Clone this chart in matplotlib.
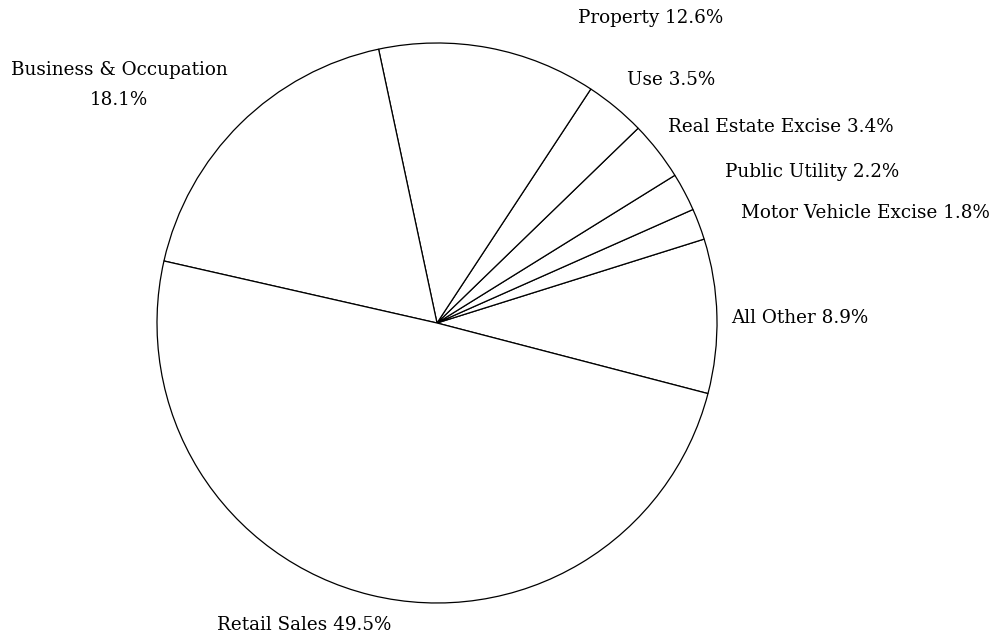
import matplotlib.pyplot as plt

# revenue share by tax source (%), counter-clockwise from All Other
sources = ['All Other', 'Motor Vehicle Excise', 'Public Utility', 'Real Estate Excise',
           'Use', 'Property', 'Business & Occupation', 'Retail Sales']
shares = [8.9, 1.8, 2.2, 3.4, 3.5, 12.6, 18.1, 49.5]

# pie centre at pixel (437, 323), radius 280 px -> data units of radius 1
W, H = 996, 637
cx, cy, r = 437, 323, 280

fig = plt.figure(figsize=(W / 100, H / 100), dpi=100)
ax = fig.add_axes([0, 0, 1, 1])
ax.pie(shares, startangle=-14.6, counterclock=True,
       colors=['white'] * len(shares),
       wedgeprops=dict(edgecolor='black', linewidth=0.9))
ax.set_xlim(-cx / r, (W - cx) / r)
ax.set_ylim(-(H - cy) / r, cy / r)
ax.set_aspect('equal')
ax.axis('off')

# label anchor points in pixels (x, y, ha)
label_pos = [(731, 318, 'left'), (741, 213, 'left'), (725, 172, 'left'),
             (668, 127, 'left'), (627, 80, 'left'), (578, 18, 'left'),
             (119, 85, 'center'), (217, 625, 'left')]

for name, val, (px, py, ha) in zip(sources, shares, label_pos):
    if name == 'Business & Occupation':
        txt = f'{name}\n{val}%'
    else:
        txt = f'{name} {val}%'
    ax.text((px - cx) / r, (cy - py) / r, txt, ha=ha, va='center',
            fontsize=13.2, family='DejaVu Serif', linespacing=1.8)

plt.savefig('out.png', dpi=100)
plt.close()
